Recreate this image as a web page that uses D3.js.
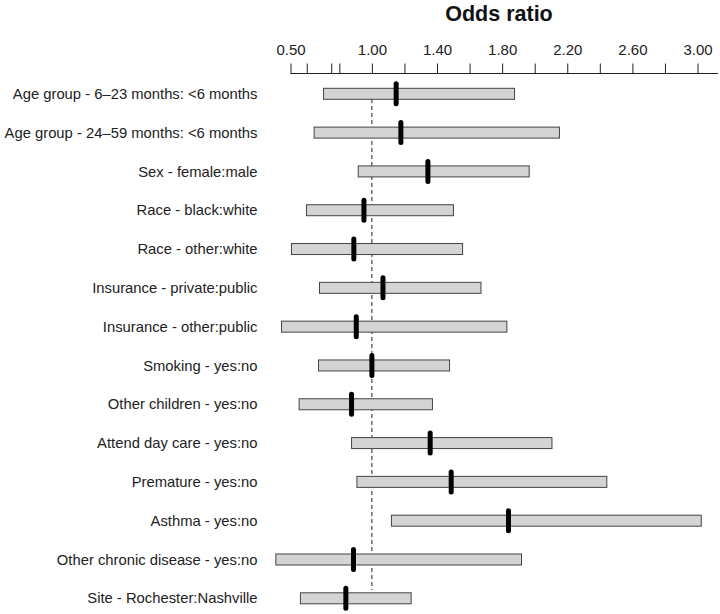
<!DOCTYPE html>
<html><head><meta charset="utf-8">
<script src="https://cdn.jsdelivr.net/npm/d3@7"></script>
<style>body{margin:0;background:#fff;} text{font-family:"Liberation Sans",Arial,sans-serif;}</style>
</head><body>
<svg id="chart" width="720" height="614"></svg>
<script>
const categories = [
  "Age group - 6\u201323 months: <6 months",
  "Age group - 24\u201359 months: <6 months",
  "Sex - female:male",
  "Race - black:white",
  "Race - other:white",
  "Insurance - private:public",
  "Insurance - other:public",
  "Smoking - yes:no",
  "Other children - yes:no",
  "Attend day care - yes:no",
  "Premature - yes:no",
  "Asthma - yes:no",
  "Other chronic disease - yes:no",
  "Site - Rochester:Nashville"
];
const estimate = [1.149, 1.178, 1.344, 0.951, 0.889, 1.068, 0.904, 1.000, 0.875, 1.358, 1.487, 1.839, 0.887, 0.840];
const lower    = [0.703, 0.645, 0.916, 0.598, 0.506, 0.678, 0.445, 0.672, 0.553, 0.875, 0.908, 1.120, 0.410, 0.561];
const upper    = [1.876, 2.152, 1.966, 1.501, 1.557, 1.670, 1.829, 1.477, 1.372, 2.106, 2.443, 3.023, 1.919, 1.241];
const tickValues = [0.5, 0.6, 0.75, 0.8, 1.0, 1.2, 1.4, 1.6, 1.8, 2.0, 2.2, 2.4, 2.6, 2.8, 3.0];
const tickLabels = ["0.50", "1.00", "1.40", "1.80", "2.20", "2.60", "3.00"];
const axisTitle = "Odds ratio";

const svg = d3.select("#chart");
const x = d3.scaleLinear().domain([0.5, 3.0]).range([290.5, 697.5]);
const y = d3.scalePoint().domain(categories).range([93.8, 598.3]);

// title
svg.append("text").attr("x", 499).attr("y", 21).attr("text-anchor", "middle")
  .attr("font-size", 21.5).attr("font-weight", "bold").attr("fill", "#111").text(axisTitle);

// axis
const axis = d3.axisTop(x).tickValues(tickValues).tickSize(10).tickSizeOuter(0)
  .tickFormat(d => { const s = d.toFixed(2); return tickLabels.includes(s) ? s : ""; });
const ag = svg.append("g").attr("transform", "translate(0,73.5)").call(axis);
ag.select(".domain").attr("d", `M${x(0.5)},0H718`).attr("stroke", "#222");
ag.selectAll(".tick line").attr("stroke", "#222");
ag.selectAll(".tick text").attr("font-size", 15).attr("fill", "#222").attr("y", -19)
  .style("font-family", "'Liberation Sans', Arial, sans-serif");

// reference dashed line
svg.append("line").attr("x1", x(1)).attr("x2", x(1)).attr("y1", 99).attr("y2", 590)
  .attr("stroke", "#222").attr("stroke-dasharray", "4,3").attr("stroke-width", 1);

// labels
svg.append("g").selectAll("text").data(categories).join("text")
  .attr("x", 257.5).attr("y", d => y(d)).attr("dy", "0.35em")
  .attr("text-anchor", "end").attr("font-size", 14.8).attr("fill", "#222").text(d => d);

// bars
svg.append("g").selectAll("rect").data(categories).join("rect")
  .attr("x", (d, i) => x(lower[i])).attr("width", (d, i) => x(upper[i]) - x(lower[i]))
  .attr("y", d => y(d) - 5.5).attr("height", 11)
  .attr("fill", "#d4d4d4").attr("stroke", "#444").attr("stroke-width", 1);

// estimate marks
svg.append("g").selectAll("line").data(categories).join("line")
  .attr("x1", (d, i) => x(estimate[i])).attr("x2", (d, i) => x(estimate[i]))
  .attr("y1", d => y(d) - 10).attr("y2", d => y(d) + 10)
  .attr("stroke", "#000").attr("stroke-width", 5).attr("stroke-linecap", "round");
</script>
</body></html>
